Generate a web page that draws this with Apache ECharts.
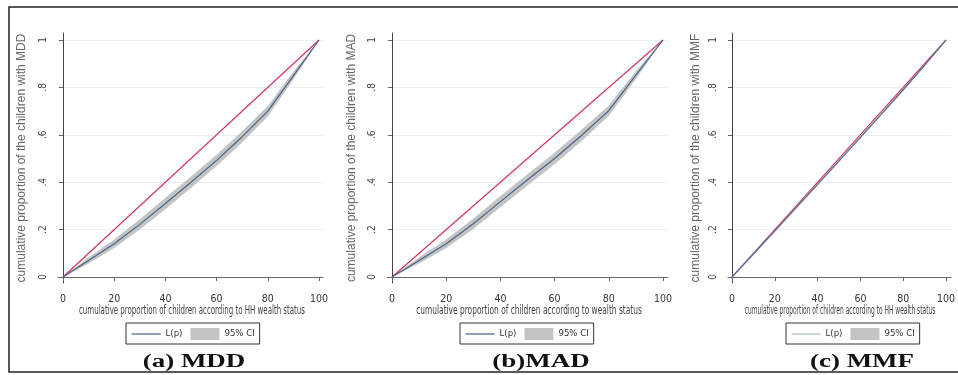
<!DOCTYPE html>
<html>
<head>
<meta charset="utf-8">
<script src="https://cdn.jsdelivr.net/npm/echarts@6/dist/echarts.min.js"></script>
<style>
  html, body { margin: 0; padding: 0; background: #fff; }
  #chart { width: 958px; height: 375px; }
</style>
</head>
<body>
<div id="chart"></div>
<script>
// cumulative share of children (x) and concentration curves
var pVals = [0, 10, 20, 30, 40, 50, 60, 70, 80, 90, 100];

var mddL  = [0, 0.070, 0.140, 0.222, 0.310, 0.400, 0.492, 0.592, 0.700, 0.850, 1];
var mddLo = [0, 0.057, 0.122, 0.200, 0.286, 0.376, 0.468, 0.568, 0.678, 0.833, 1];
var mddHi = [0, 0.083, 0.158, 0.244, 0.334, 0.424, 0.516, 0.616, 0.722, 0.867, 1];

var madL  = [0, 0.070, 0.140, 0.225, 0.318, 0.410, 0.500, 0.598, 0.702, 0.852, 1];
var madLo = [0, 0.057, 0.122, 0.203, 0.294, 0.386, 0.476, 0.574, 0.680, 0.835, 1];
var madHi = [0, 0.083, 0.158, 0.247, 0.342, 0.434, 0.524, 0.622, 0.724, 0.869, 1];

var mmfL  = [0, 0.097, 0.195, 0.293, 0.391, 0.490, 0.589, 0.689, 0.790, 0.893, 1];
var mmfLo = [0, 0.092, 0.189, 0.287, 0.385, 0.484, 0.583, 0.683, 0.784, 0.888, 1];
var mmfHi = [0, 0.102, 0.201, 0.299, 0.397, 0.496, 0.595, 0.695, 0.796, 0.898, 1];

// line of equality
var eqX = [0, 100];
var eqY = [0, 1];

var xTicks = [0, 20, 40, 60, 80, 100];
var yTicks = [0, 0.2, 0.4, 0.6, 0.8, 1];
var yTickLabels = ['0', '.2', '.4', '.6', '.8', '1'];

var narrow = '"Liberation Sans Narrow", "DejaVu Sans Condensed", "Liberation Sans", sans-serif';

var panels = [
    { L: mddL, lo: mddLo, hi: mddHi, grid: { left: 58, top: 33, width: 265, height: 250 }, xMin: -1.95, xMax: 101.56,
      yName: 'cumulative proportion of the children with MDD', yGap: 30,
      xName: 'cumulative proportion of children according to HH wealth status', xNameX: 192, xScale: 0.652,
      lineColor: '#46648a', legendLeft: 126, legendLine: '#46648a',
      caption: '(a) MDD', capX: 194 },
    { L: madL, lo: madLo, hi: madHi, grid: { left: 387, top: 33, width: 281, height: 250 }, xMin: -1.85, xMax: 101.85,
      yName: 'cumulative proportion of the children with MAD', yGap: 29,
      xName: 'cumulative proportion of children according to wealth status', xNameX: 529, xScale: 0.69,
      lineColor: '#46648a', legendLeft: 460, legendLine: '#46648a',
      caption: '(b)MAD', capX: 541 },
    { L: mmfL, lo: mmfLo, hi: mmfHi, grid: { left: 728, top: 33, width: 224, height: 250 }, xMin: -1.86, xMax: 102.3,
      yName: 'cumulative proportion of the children with MMF', yGap: 26,
      xName: 'cumulative proportion of children according to HH wealth status', xNameX: 840, xScale: 0.55,
      lineColor: '#5a7494', legendLeft: 786, legendLine: '#a9bacd',
      caption: '(c) MMF', capX: 862 }
];

var grids = [], xAxes = [], yAxes = [], series = [], legends = [], graphics = [];

graphics.push({
    type: 'rect', silent: true,
    shape: { x: 9, y: 7, width: 960, height: 365 },
    style: { fill: 'none', stroke: '#222', lineWidth: 1.5 }
});

panels.forEach(function (pn, i) {
    grids.push(pn.grid);
    xAxes.push({
        type: 'value', gridIndex: i, min: pn.xMin, max: pn.xMax,
        axisLine: { lineStyle: { color: '#666', width: 1 } },
        axisTick: { length: 4, customValues: xTicks, lineStyle: { color: '#666' } },
        axisLabel: { customValues: xTicks, margin: 11, fontSize: 10.5, fontFamily: narrow, color: '#333' },
        splitLine: { show: false }
    });
    yAxes.push({
        type: 'value', gridIndex: i, min: -0.0253, max: 1.0295,
        name: pn.yName, nameLocation: 'middle', nameGap: pn.yGap, nameRotate: 90,
        nameTextStyle: { fontSize: 12, fontFamily: '"Liberation Sans", sans-serif', color: '#666' },
        axisLine: { show: true, lineStyle: { color: '#444', width: 1 } },
        axisTick: { show: true, length: 4, customValues: yTicks, lineStyle: { color: '#666' } },
        axisLabel: {
            customValues: yTicks, rotate: 90, margin: 10, fontSize: 10, fontFamily: narrow, color: '#444',
            formatter: function (v) { return yTickLabels[Math.round(v * 5)]; }
        },
        splitLine: { show: true, lineStyle: { color: '#e8f0f0', width: 1 } }
    });

    // 95% CI band as one polygon: upper bound forward, lower bound back
    series.push({
        name: '95% CI', type: 'custom', xAxisIndex: i, yAxisIndex: i, silent: true, z: 1,
        itemStyle: { color: '#c4c4c4' },
        data: pVals.map(function (x, k) { return [x, pn.lo[k], pn.hi[k]]; }),
        encode: { x: 0, y: [1, 2] },
        renderItem: function (params, api) {
            if (params.dataIndex !== 0) return;
            var pts = [], k;
            for (k = 0; k < pVals.length; k++) pts.push(api.coord([pVals[k], pn.hi[k]]));
            for (k = pVals.length - 1; k >= 0; k--) pts.push(api.coord([pVals[k], pn.lo[k]]));
            return { type: 'polygon', shape: { points: pts }, style: { fill: '#c4c4c4' } };
        }
    });
    series.push({
        type: 'line', xAxisIndex: i, yAxisIndex: i, silent: true,
        symbol: 'none', z: 2,
        lineStyle: { color: '#cf2f5a', width: 1.1 },
        data: eqX.map(function (x, k) { return [x, eqY[k]]; })
    });
    series.push({
        name: 'L(p)', type: 'line', xAxisIndex: i, yAxisIndex: i, silent: true,
        symbol: 'none', z: 3,
        itemStyle: { color: pn.lineColor },
        lineStyle: { color: pn.lineColor, width: 1.2 },
        data: pVals.map(function (x, k) { return [x, pn.L[k]]; })
    });

    legends.push({
        left: pn.legendLeft, top: 323, orient: 'horizontal',
        borderColor: '#333', borderWidth: 1, borderRadius: 0,
        padding: [5, 5, 4, 5], itemWidth: 29, itemHeight: 12, itemGap: 8,
        selectedMode: false,
        textStyle: { fontSize: 9.5, fontFamily: narrow, color: '#333' },
        data: [
            { name: 'L(p)', itemStyle: { opacity: 0 }, lineStyle: { color: pn.legendLine, width: 1.2 } },
            { name: '95% CI', icon: 'rect', itemStyle: { color: '#c4c4c4' } }
        ]
    });

    // x-axis title, squeezed horizontally like the source figure
    graphics.push({
        type: 'text', x: pn.xNameX, y: 311, scaleX: pn.xScale, silent: true,
        style: {
            text: pn.xName, font: '12px ' + narrow,
            textAlign: 'center', textVerticalAlign: 'middle', fill: '#444'
        }
    });

    graphics.push({
        type: 'text', x: pn.capX, y: 362, scaleX: 1.5, silent: true,
        style: {
            text: pn.caption, font: 'bold 18px "Liberation Serif", serif',
            textAlign: 'center', textVerticalAlign: 'middle', fill: '#111'
        }
    });
});

var myChart = echarts.init(document.getElementById('chart'));
option = {
    backgroundColor: '#fff',
    animation: false,
    grid: grids,
    xAxis: xAxes,
    yAxis: yAxes,
    legend: legends,
    series: series,
    graphic: graphics
};
myChart.setOption(option);
</script>
</body>
</html>
